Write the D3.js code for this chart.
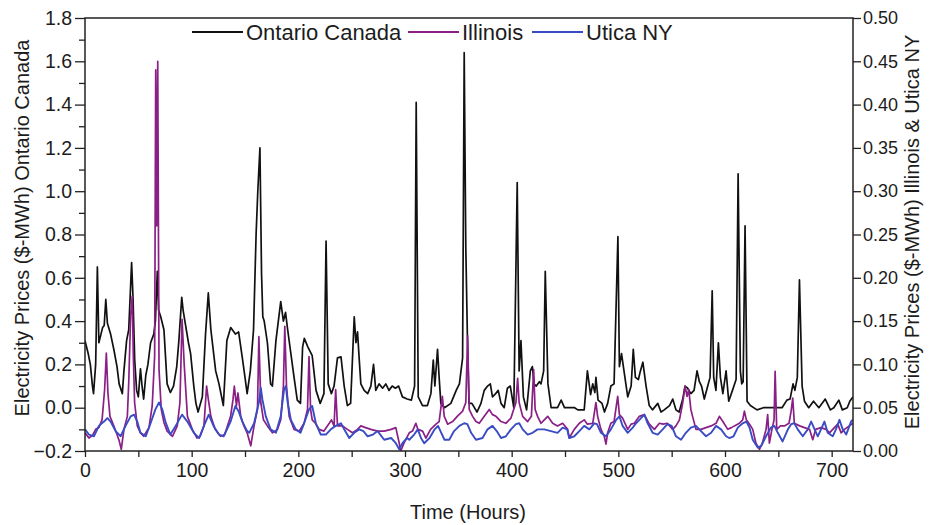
<!DOCTYPE html>
<html><head><meta charset="utf-8">
<script src="https://cdn.jsdelivr.net/npm/d3@7"></script>
<style>
body{margin:0;background:#fff}
svg{display:block}
text{font-family:"Liberation Sans",Arial,sans-serif;fill:#1c1c1c}
</style>
</head><body>
<svg id="c" width="930" height="525"></svg>
<script>
// [hour, price] – Ontario Canada (left axis)
const ontario = [[0,.31],[3,.25],[5,.20],[7,.10],[8,.065],[10,.20],[11.6,.65],[13,.30],[15,.34],[16.5,.37],[18,.38],[19.5,.50],[21,.39],[24,.34],[27,.27],[30,.19],[32,.11],[35,.065],[36.5,.17],[39,.31],[41,.36],[43.7,.67],[45,.51],[46.6,.22],[48.4,.08],[50,.05],[52,.18],[53.5,.10],[55,.04],[57,.15],[59,.20],[61.5,.30],[64.5,.34],[66,.40],[67.8,.63],[69,.45],[71,.42],[74,.36],[77,.11],[80,.07],[83,.10],[86,.19],[88,.31],[90.7,.51],[92,.45],[94,.39],[97,.30],[99,.25],[102,.10],[104,.02],[106,-.02],[110,.05],[113,.34],[115.6,.53],[118,.36],[122.5,.17],[125.6,.11],[129.7,.01],[133,.31],[136.6,.37],[141,.34],[144,.35],[147.5,.23],[150,.14],[152,.065],[155,.17],[158,.36],[160.4,.80],[162,1.0],[164,1.20],[165.5,.62],[166.7,.42],[168,.40],[171,.30],[174,.11],[175.7,.10],[179,.31],[183.5,.49],[186,.40],[188,.44],[190,.36],[193,.25],[196,.14],[199,.035],[202,.02],[204,.28],[205.6,.32],[209,.28],[213,.24],[216.6,.08],[220.5,.02],[224,.065],[226,.77],[228,.11],[231,.065],[233.5,.10],[236.7,.23],[240,.235],[243,.10],[246,.01],[249,.02],[252.4,.42],[254,.30],[255.5,.35],[257,.23],[258.6,.11],[261.7,.08],[265,.065],[268,.10],[270.5,.20],[272.6,.08],[275.7,.11],[279,.09],[282,.11],[285,.08],[288,.10],[291,.09],[294,.10],[297.6,.05],[302,.04],[306,.035],[309,.10],[310.5,1.41],[312.4,.05],[316.4,.01],[321,.01],[324.3,.065],[326.5,.22],[328,.10],[330.5,.27],[332,.14],[333.6,.02],[337,.00],[343,.02],[348,.08],[351,.11],[354,.23],[355.5,1.64],[357,.74],[358.5,.33],[360,.02],[362.7,.02],[367.5,-.02],[371.2,.02],[374.3,.08],[377.4,.10],[380,.11],[382,.05],[385,.065],[387.4,.08],[390,.02],[393,.00],[396,.09],[398.7,.10],[402,.00],[405.2,1.04],[407,.17],[408.7,.31],[411,.05],[414,-.01],[417.5,.17],[419.4,.19],[421,.11],[423,.10],[426,.12],[427.5,.11],[430,.17],[431.5,.63],[434,.11],[437,.00],[443,.00],[446.4,.035],[449.5,.00],[455,.00],[459,.00],[462,-.01],[468,-.01],[471,.17],[474,.06],[476,.11],[478,.07],[479,.14],[481,.035],[484.7,.02],[487,-.02],[490,.02],[493,.10],[496,.11],[499.6,.79],[501,.19],[503,.25],[505.6,.16],[508.8,.05],[512,.10],[514,.27],[516,.14],[518.8,.13],[520.7,.17],[523,.21],[526,.10],[529,.01],[532,-.01],[537,.02],[540,-.02],[543,-.01],[548,.01],[551,.04],[554,-.01],[557,-.02],[560.4,.04],[562.5,.10],[565,.09],[568,.065],[571,.08],[573.8,.17],[576,.12],[578,.10],[580.6,.04],[583.8,.10],[586,.14],[588,.54],[589.4,.14],[591.5,.08],[593.8,.30],[595.7,.14],[598,.065],[601,.17],[603.5,.03],[607,.08],[610.4,.13],[612.3,1.08],[614.4,.17],[615.7,.11],[617,.12],[618.8,.84],[620.7,.03],[623.8,.01],[630,-.01],[636,.00],[645,.00],[653.5,.00],[658,.035],[661,.04],[663.8,.11],[665.5,.08],[667.8,.14],[669.8,.59],[672.3,.10],[674.5,.03],[678.5,.00],[683,.03],[688,.00],[694,.04],[698.8,-.01],[702,.00],[706.7,.035],[710,-.01],[714.6,.00],[717,.03],[720,.05]];

// [hour, price] – Illinois (right axis)
const illinois = [[0,.021],[3.7,.015],[7,.018],[10,.025],[13,.027],[16,.036],[18.4,.071],[20,.113],[21.5,.067],[23.4,.040],[27,.029],[30,.019],[32,.012],[34,.002],[36.5,.025],[39.7,.040],[41,.079],[42.8,.156],[44.3,.179],[45.3,.11],[46.5,.056],[49,.029],[52,.021],[55,.017],[60,.027],[63,.052],[65.3,.11],[66.3,.44],[67.2,.26],[68.2,.45],[69.4,.094],[71.5,.048],[74,.033],[77,.023],[82,.017],[86.5,.029],[89,.056],[91,.152],[93,.10],[96,.040],[100.6,.025],[105,.015],[108,.017],[111.5,.029],[114,.075],[115.6,.060],[118,.040],[122,.025],[127,.017],[131,.019],[136.5,.040],[138.7,.059],[140,.075],[142,.052],[143.4,.067],[146,.040],[149,.029],[152,.021],[155.4,.006],[158.5,.029],[161.7,.048],[163,.132],[164.8,.056],[167.3,.036],[171,.029],[175.7,.021],[180.5,.025],[183.5,.036],[186,.075],[187.3,.144],[188.9,.075],[191.4,.040],[196,.025],[200.8,.023],[205.4,.032],[208.6,.048],[210,.109],[211.5,.048],[213,.036],[216,.032],[219.5,.025],[224,.023],[229,.032],[231,.036],[233.5,.029],[235,.071],[236.7,.029],[241.4,.029],[246,.025],[250.8,.021],[255.5,.025],[258.6,.029],[263,.027],[268,.025],[274.3,.023],[280.5,.023],[287,.025],[291.4,.027],[294.6,.009],[296,.000],[299,.009],[304,.021],[307,.023],[310.2,.032],[312,.025],[316.5,.023],[319.6,.015],[324,.025],[329,.031],[332,.034],[335,.063],[336.8,.040],[340,.031],[344.6,.034],[349,.040],[354,.046],[357,.056],[358.7,.133],[360.2,.048],[363.4,.040],[366.5,.034],[369.6,.032],[374.3,.040],[379,.048],[382,.042],[385.3,.040],[390,.034],[394.6,.032],[399.3,.038],[404,.056],[405.6,.084],[407,.056],[410.3,.040],[415,.034],[418.5,.040],[420.6,.094],[422,.048],[424.3,.040],[427.5,.032],[430.6,.036],[433.8,.040],[438.4,.032],[443,.029],[447.8,.032],[452.5,.025],[454,.015],[458.7,.025],[463.4,.032],[468,.036],[471,.031],[476,.032],[479,.056],[480.6,.040],[483.7,.025],[486.8,.017],[488.4,.008],[490,.021],[493,.032],[496,.034],[499.4,.063],[501,.042],[504,.038],[508.8,.025],[512,.031],[515,.032],[519.7,.040],[524.4,.042],[529,.031],[533.8,.025],[538.5,.032],[542,.031],[546,.032],[550.9,.025],[554,.029],[557.3,.036],[560.4,.056],[562.6,.075],[564.4,.063],[566,.071],[568,.048],[569.6,.040],[572.8,.025],[577.5,.025],[582.2,.027],[587,.029],[591.6,.032],[594.8,.040],[598,.034],[602.6,.025],[606,.027],[608.8,.029],[613.5,.032],[616.6,.036],[618.2,.046],[620,.036],[623,.031],[626,.025],[629,.009],[632.3,.002],[635,.009],[638.5,.025],[640,.042],[641.6,.009],[644,.025],[646,.036],[647,.092],[648.5,.025],[652,.029],[655.7,.029],[660,.032],[662,.046],[663.5,.061],[665,.032],[670,.029],[674.5,.027],[679.2,.025],[682.3,.013],[685,.025],[690,.027],[694.8,.025],[698,.021],[701,.025],[705.7,.031],[708.9,.021],[712,.025],[716.6,.029],[720,.032]];

// [hour, price] – Utica NY (right axis)
const utica = [[0,.025],[3.7,.019],[8.4,.017],[13,.029],[17.8,.034],[21,.038],[24,.034],[28.7,.023],[33.4,.017],[38,.029],[42.8,.040],[46,.042],[49,.034],[52,.021],[57,.017],[61.5,.032],[66,.048],[69.4,.056],[72.5,.048],[75.6,.033],[80,.019],[85,.029],[91,.042],[96,.034],[102,.021],[107,.015],[111.5,.029],[116,.042],[120.5,.029],[125.6,.019],[130,.017],[136.5,.034],[141,.052],[144,.046],[147.5,.034],[152,.023],[154,.021],[158.5,.032],[163,.056],[164.8,.073],[166.4,.059],[169.5,.040],[174,.025],[179,.021],[183.5,.040],[186.6,.071],[188.3,.075],[190,.056],[193,.036],[197.6,.025],[202,.021],[205.4,.032],[210,.048],[213,.052],[216.4,.032],[221,.019],[225.8,.019],[230.5,.025],[235,.029],[240,.032],[243,.025],[247.7,.015],[252.4,.021],[257,.025],[261,.023],[265,.017],[270,.019],[274.3,.023],[280.5,.013],[287,.015],[291.4,.009],[294.6,.002],[297.6,.009],[302,.015],[304,.013],[308.6,.019],[312,.025],[315,.015],[318,.009],[323,.015],[327.8,.025],[331,.029],[334,.021],[337,.013],[341.5,.013],[346,.023],[351,.029],[355.5,.032],[358.5,.031],[362,.021],[366.5,.013],[372.7,.015],[377.4,.025],[382,.029],[386,.023],[390,.015],[394.6,.017],[399.3,.025],[404,.031],[407.1,.032],[410.3,.025],[415,.019],[419.6,.021],[424.3,.025],[430.6,.025],[436.8,.023],[443,.021],[447.8,.027],[452,.025],[454,.015],[458.7,.017],[463.4,.023],[468,.029],[472.8,.025],[477.5,.032],[480,.031],[483.7,.021],[488.4,.017],[493,.025],[498,.036],[501,.040],[504,.029],[508.8,.021],[513.5,.027],[516.6,.032],[521.3,.038],[524.4,.042],[527.5,.032],[532.2,.021],[536.9,.019],[541.6,.025],[546,.031],[550,.029],[554,.017],[558.8,.013],[563.3,.021],[568,.027],[572.8,.029],[577.5,.023],[582.2,.017],[587,.021],[591.6,.029],[596.3,.025],[601,.017],[604,.015],[608,.017],[612,.027],[616.6,.032],[620,.034],[623,.027],[626,.013],[630.7,.004],[634,.006],[638.5,.017],[643,.027],[646.3,.029],[649.5,.021],[654,.011],[659,.025],[662,.031],[665,.032],[668.2,.025],[672.9,.017],[677.6,.025],[680.8,.034],[684,.025],[687,.017],[690,.025],[693.2,.034],[696.3,.021],[701,.017],[704,.025],[707.3,.036],[710.4,.025],[713.6,.019],[718.2,.034],[720,.036]];

const seriesNames = ["Ontario Canada", "Illinois", "Utica NY"];
const seriesColors = ["#111111", "#8a1f86", "#3a4cc4"];
const xTicks = [0,50,100,150,200,250,300,350,400,450,500,550,600,650,700];
const xLabels = [0,100,200,300,400,500,600,700];
const leftMajor = [-0.2,0,0.2,0.4,0.6,0.8,1.0,1.2,1.4,1.6,1.8];
const leftMinor = [-0.1,0.1,0.3,0.5,0.7,0.9,1.1,1.3,1.5,1.7];
const rightTicks = [0,0.05,0.10,0.15,0.20,0.25,0.30,0.35,0.40,0.45,0.50];

const L = 85, R = 853, T = 18, B = 451;
const svg = d3.select("#c");
const x = d3.scaleLinear().domain([0,720]).range([L,R]);
const yL = d3.scaleLinear().domain([-0.2,1.8]).range([B,T]);
const yR = d3.scaleLinear().domain([0,0.5]).range([B,T]);

function styleAxis(fs){
  return g => {
    g.select(".domain").remove();
    g.selectAll(".tick line").attr("stroke","#222").attr("stroke-width",1.3);
    g.selectAll(".tick text").style("font-size",fs).attr("fill","#1c1c1c");
  };
}

// axes
svg.append("g").attr("transform",`translate(${L},0)`)
  .call(d3.axisLeft(yL).tickValues(leftMinor).tickSize(6).tickFormat(""))
  .call(styleAxis("19px"));
svg.append("g").attr("transform",`translate(${L},0)`)
  .call(d3.axisLeft(yL).tickValues(leftMajor).tickSize(10).tickPadding(3).tickFormat(d3.format(".1f")))
  .call(styleAxis("19.5px"));
svg.append("g").attr("transform",`translate(${R},0)`)
  .call(d3.axisRight(yR).tickValues(rightTicks).tickSize(8).tickPadding(2).tickFormat(d3.format(".2f")))
  .call(styleAxis("18px"));
svg.append("g").attr("transform",`translate(0,${B})`)
  .call(d3.axisBottom(x).tickValues(xTicks).tickSize(6).tickPadding(6)
     .tickFormat(d => xLabels.includes(d) ? d : ""))
  .call(styleAxis("19.5px"));

// series
svg.append("clipPath").attr("id","clp").append("rect")
  .attr("x",L).attr("y",T).attr("width",R-L).attr("height",B-T);
const lineL = d3.line().x(d=>x(d[0])).y(d=>yL(d[1]));
const lineR = d3.line().x(d=>x(d[0])).y(d=>yR(d[1]));
const plot = svg.append("g").attr("clip-path","url(#clp)");
plot.append("path").datum(ontario).attr("d",lineL).attr("fill","none")
  .attr("stroke",seriesColors[0]).attr("stroke-width",1.7).attr("stroke-linejoin","round");
plot.append("path").datum(illinois).attr("d",lineR).attr("fill","none")
  .attr("stroke",seriesColors[1]).attr("stroke-width",1.7).attr("stroke-linejoin","round");
plot.append("path").datum(utica).attr("d",lineR).attr("fill","none")
  .attr("stroke",seriesColors[2]).attr("stroke-width",1.9).attr("stroke-linejoin","round");

// frame
svg.append("rect").attr("x",L).attr("y",T).attr("width",R-L).attr("height",B-T)
  .attr("fill","none").attr("stroke","#222").attr("stroke-width",1.5);

// legend
const legX = [192, 408, 532];
const legY = 32;
seriesNames.forEach((n,i)=>{
  svg.append("line").attr("x1",legX[i]).attr("x2",legX[i]+51).attr("y1",legY).attr("y2",legY)
    .attr("stroke",seriesColors[i]).attr("stroke-width",1.8);
  svg.append("text").attr("x",legX[i]+54).attr("y",legY).attr("dy","0.36em")
    .style("font-size","22px").text(n);
});

// titles
svg.append("text").attr("x",468).attr("y",512).attr("text-anchor","middle").attr("dy","0.35em")
  .style("font-size","20px").text("Time (Hours)");
svg.append("text").attr("transform","translate(22,228) rotate(-90)").attr("text-anchor","middle")
  .attr("dy","0.35em").style("font-size","20px").text("Electricity Prices ($-MWh) Ontario Canada");
svg.append("text").attr("transform","translate(912,232) rotate(-90)").attr("text-anchor","middle")
  .attr("dy","0.35em").style("font-size","20px").text("Electricity Prices ($-MWh) Illinois & Utica NY");
</script>
</body></html>
